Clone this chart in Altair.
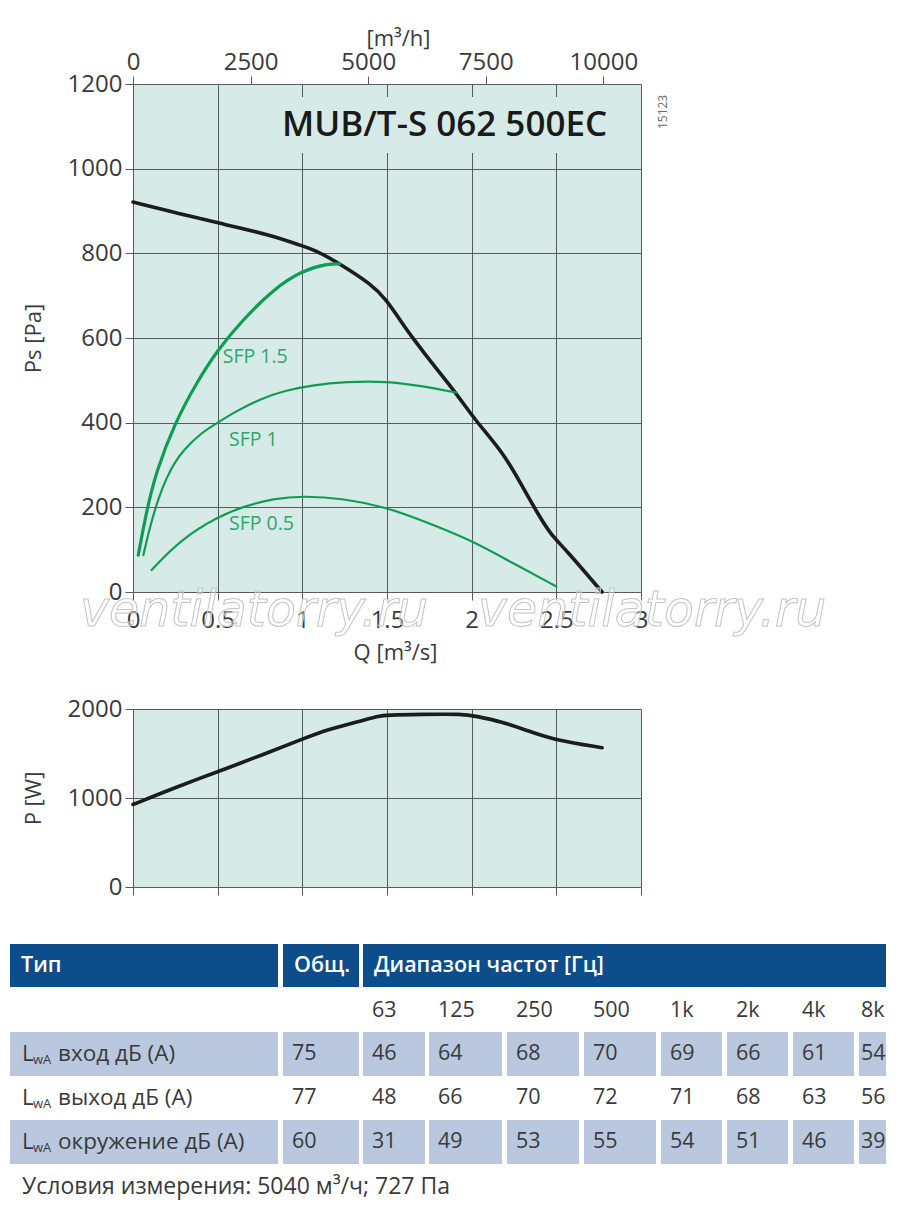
import altair as alt
import pandas as pd

# ---------------- data ----------------
# static pressure curve Ps [Pa] vs Q [m3/s]
q_ps = [0.00, 0.27, 0.50, 0.82, 1.00, 1.07, 1.22, 1.41, 1.49, 1.61, 1.66, 1.75, 1.91, 2.02, 2.19, 2.29, 2.39, 2.47, 2.55, 2.77]
pa_ps = [921, 894, 872, 843, 817, 809, 776, 726, 694, 623, 596, 548, 469, 406, 327, 256, 185, 134, 103, 0]

# SFP curves
q_sfp15 = [0.031, 0.081, 0.14, 0.248, 0.376, 0.50, 0.648, 0.829, 1.00, 1.16, 1.22]
pa_sfp15 = [87, 194, 288, 400, 495, 572, 643, 715, 760, 776, 775]
q_sfp10 = [0.061, 0.10, 0.15, 0.20, 0.25, 0.30, 0.40, 0.50, 0.60, 0.75, 0.90, 1.05, 1.26, 1.50, 1.70, 1.91]
pa_sfp10 = [87, 154, 222, 272, 308, 336, 375, 400, 425, 456, 476, 488, 497, 498, 487, 471]
q_sfp05 = [0.11, 0.278, 0.502, 0.652, 0.829, 1.006, 1.242, 1.498, 1.70, 2.00, 2.23, 2.50]
pa_sfp05 = [52, 123, 178, 202, 221, 227, 221, 200, 170, 122, 71, 13]

sfp_labels = ["SFP 1.5", "SFP 1", "SFP 0.5"]
sfp_label_q = [0.53, 0.567, 0.567]
sfp_label_pa = [555, 359, 160]

# power curve P [W] vs Q [m3/s]
q_pw = [0.00, 0.26, 0.50, 0.76, 1.00, 1.15, 1.33, 1.45, 1.50, 1.70, 1.95, 2.02, 2.18, 2.32, 2.47, 2.77]
p_w = [927, 1126, 1295, 1482, 1662, 1771, 1857, 1921, 1932, 1940, 1944, 1921, 1857, 1764, 1659, 1565]

q_ticks = [0, 0.5, 1, 1.5, 2, 2.5, 3]
pa_ticks = [0, 200, 400, 600, 800, 1000, 1200]
m3h_ticks = [0, 2500, 5000, 7500, 10000]
w_ticks = [0, 1000, 2000]

model_name = "MUB/T-S 062 500EC"
drawing_no = "15123"
watermark = "ventilatorry.ru"

# sound table
header = ["Тип", "Общ.", "Диапазон частот [Гц]"]
freq_labels = ["63", "125", "250", "500", "1k", "2k", "4k", "8k"]
row_names = ["вход дБ (A)", "выход дБ (A)", "окружение дБ (A)"]
totals = [75, 77, 60]
inlet = [46, 64, 68, 70, 69, 66, 61, 54]
outlet = [48, 66, 70, 72, 71, 68, 63, 56]
surround = [31, 49, 53, 55, 54, 51, 46, 39]
footer = "Условия измерения: 5040 м³/ч; 727 Па"

# ---------------- styles ----------------
FONT = "Open Sans"
TEAL = "#d6ebe7"
GRID = "#5a5a5a"
GREEN = "#0f9c55"
GREEN_TXT = "#2ea66a"
TXT = "#3a3a3a"
BLUE = "#0d4d8b"
LIGHT = "#b9c7df"

W = 508
H_TOP = 508
H_BOT = 178

# ---------------- top chart ----------------
x_axis = alt.Axis(values=q_ticks, format="~g", title="Q [m³/s]", grid=True,
                  tickSize=8, labelPadding=8, titlePadding=10, titleX=262)
y_axis = alt.Axis(values=pa_ticks, format="d", title="Ps [Pa]", grid=True, tickSize=8,
                  labelPadding=3, titlePadding=22)


def X():
    return alt.X("Q:Q", scale=alt.Scale(domain=[0, 3], nice=False, zero=False), axis=x_axis)


def X2():
    return alt.X2("Q2:Q")


def Y():
    return alt.Y("Pa:Q", scale=alt.Scale(domain=[0, 1200], nice=False, zero=False), axis=y_axis)


def Y2():
    return alt.Y2("Pa2:Q")


def curve(q, p, color, width):
    df = pd.DataFrame({"Q": q, "Pa": p})
    return alt.Chart(df).mark_line(color=color, strokeWidth=width, interpolate="basis",
                                   strokeCap="round").encode(x=X(), y=Y())


ps_line = curve(q_ps, pa_ps, "#1c1c1c", 3.6)
sfp15 = curve(q_sfp15, pa_sfp15, GREEN, 3.2)
sfp10 = curve(q_sfp10, pa_sfp10, GREEN, 2.2)
sfp05 = curve(q_sfp05, pa_sfp05, GREEN, 2.2)

lab_df = pd.DataFrame({"Q": sfp_label_q, "Pa": sfp_label_pa, "t": sfp_labels})
sfp_text = alt.Chart(lab_df).mark_text(align="left", baseline="middle", font=FONT,
                                       fontSize=19.5, color=GREEN_TXT).encode(
    x=X(), y=Y(), text="t:N")

mask_df = pd.DataFrame({"Q": [0.85], "Q2": [2.93], "Pa": [1037], "Pa2": [1169]})
mask = alt.Chart(mask_df).mark_rect(color=TEAL).encode(x=X(), x2=X2(), y=Y(), y2=Y2())

title_df = pd.DataFrame({"Q": [2.80], "Pa": [1102], "t": [model_name]})
title_txt = alt.Chart(title_df).mark_text(align="right", baseline="middle", font=FONT,
                                          fontSize=35, fontWeight=600, color="#1a1a1a").encode(
    x=X(), y=Y(), text="t:N")

code_df = pd.DataFrame({"Q": [3.13], "Pa": [1134], "t": [drawing_no]})
code_txt = alt.Chart(code_df).mark_text(align="center", baseline="middle", font=FONT,
                                        fontSize=12, angle=270, color="#6a6a6a").encode(
    x=X(), y=Y(), text="t:N")

wm_df = pd.DataFrame({"Q": [-0.313, 2.038], "Pa": [-46, -46], "t": [watermark, watermark]})
wm_txt = alt.Chart(wm_df).mark_text(align="left", baseline="middle", font="DejaVu Sans",
                                    fontSize=49, fontStyle="italic", fill="white",
                                    fillOpacity=0.35, stroke="#c4c4c4", strokeWidth=1).encode(
    x=X(), y=Y(), text="t:N")

inner = alt.layer(ps_line, sfp15, sfp10, sfp05, sfp_text, mask, title_txt, code_txt, wm_txt)

top_axis_df = pd.DataFrame({"m3h": m3h_ticks})
top_axis = alt.Chart(top_axis_df).mark_point(opacity=0).encode(
    x=alt.X("m3h:Q", scale=alt.Scale(domain=[0, 10800], nice=False, zero=False),
            axis=alt.Axis(orient="top", values=m3h_ticks, format="d", grid=False, title="[m³/h]",
                          tickSize=8, labelPadding=2, titlePadding=0, titleX=265)),
    y=alt.value(0))

top = alt.layer(inner, top_axis).resolve_scale(x="independent").properties(
    width=W, height=H_TOP, view=alt.ViewBackground(fill=TEAL, stroke=None))

# ---------------- power chart ----------------
pw_df = pd.DataFrame({"Q": q_pw, "P": p_w})
bottom = alt.Chart(pw_df).mark_line(color="#1c1c1c", strokeWidth=3.6, interpolate="basis",
                                    strokeCap="round").encode(
    x=alt.X("Q:Q", scale=alt.Scale(domain=[0, 3], nice=False, zero=False),
            axis=alt.Axis(values=q_ticks, labels=False, title="", grid=True, tickSize=8)),
    y=alt.Y("P:Q", scale=alt.Scale(domain=[0, 2000], nice=False, zero=False),
            axis=alt.Axis(values=w_ticks, format="d", title="P [W]", grid=True, tickSize=8,
                          labelPadding=3, titlePadding=22)),
).properties(width=W, height=H_BOT, view=alt.ViewBackground(fill=TEAL, stroke=None))

# ---------------- sound table ----------------
# layout of the table in page pixels
T_TOP = 1004
T_BOT = 1200
col_edges = [(10, 278), (283, 359), (363, 425), (429, 502), (507, 579), (584, 656),
             (661, 722), (727, 788), (793, 854), (859, 886)]
text_x = [22, 292, 372, 438, 516, 593, 670, 736, 802, 861]
header_edges = [(10, 278), (283, 359), (363, 886)]
header_y = (944, 987)
row_bands = [(1032, 1076), (1077, 1119), (1120, 1164)]
freq_row_y = 1011
footer_y = 1187

rects = []
for (x0, x1) in header_edges:
    rects.append({"x": x0, "x2": x1, "y": header_y[0], "y2": header_y[1], "c": BLUE})
for ri in (0, 2):
    y0, y1 = row_bands[ri]
    for (x0, x1) in col_edges:
        rects.append({"x": x0, "x2": x1, "y": y0, "y2": y1, "c": LIGHT})
rect_df = pd.DataFrame(rects)

head_txt = []
for (x0, _), t in zip(header_edges, header):
    head_txt.append({"x": x0 + 11, "y": (header_y[0] + header_y[1]) / 2, "t": t})
head_df = pd.DataFrame(head_txt)

body = []
for xt, t in zip(text_x[2:], freq_labels):
    body.append({"x": xt, "y": freq_row_y, "t": t})
rows_vals = [inlet, outlet, surround]
subs = []
names = []
for ri, (name, tot, vals) in enumerate(zip(row_names, totals, rows_vals)):
    yc = (row_bands[ri][0] + row_bands[ri][1]) / 2
    names.append({"x": 22, "y": yc, "t": "L"})
    subs.append({"x": 33, "y": yc + 6, "t": "wA"})
    names.append({"x": 58, "y": yc, "t": name})
    body.append({"x": text_x[1], "y": yc, "t": str(tot)})
    for xt, v in zip(text_x[2:], vals):
        body.append({"x": xt, "y": yc, "t": str(v)})
body_df = pd.DataFrame(body)
name_df = pd.DataFrame(names)
sub_df = pd.DataFrame(subs)
foot_df = pd.DataFrame([{"x": 22, "y": footer_y, "t": footer}])

tx = alt.X("x:Q", scale=alt.Scale(domain=[133, 641], nice=False, zero=False), axis=None)
ty = alt.Y("y:Q", scale=alt.Scale(domain=[T_TOP, T_BOT], nice=False, zero=False, reverse=True),
           axis=None)

t_rects = alt.Chart(rect_df).mark_rect().encode(
    x=tx, x2="x2:Q", y=ty, y2="y2:Q", color=alt.Color("c:N", scale=None))
t_head = alt.Chart(head_df).mark_text(align="left", baseline="middle", font=FONT, fontSize=21.5,
                                      fontWeight=600, color="white").encode(x=tx, y=ty, text="t:N")
t_body = alt.Chart(body_df).mark_text(align="left", baseline="middle", font=FONT, fontSize=21.5,
                                      color=TXT).encode(x=tx, y=ty, text="t:N")
t_names = alt.Chart(name_df).mark_text(align="left", baseline="middle", font=FONT, fontSize=22.5,
                                       color=TXT).encode(x=tx, y=ty, text="t:N")
t_sub = alt.Chart(sub_df).mark_text(align="left", baseline="middle", font=FONT, fontSize=13,
                                    color=TXT).encode(x=tx, y=ty, text="t:N")
t_foot = alt.Chart(foot_df).mark_text(align="left", baseline="middle", font=FONT, fontSize=23,
                                      color=TXT).encode(x=tx, y=ty, text="t:N")

table = alt.layer(t_rects, t_head, t_body, t_names, t_sub, t_foot).properties(
    width=W, height=T_BOT - T_TOP, view=alt.ViewBackground(fill="white", stroke=None))

# ---------------- compose ----------------
chart = alt.vconcat(top, bottom, table, spacing=117, bounds="flush",
                    padding={"left": 2, "right": 0, "top": 19, "bottom": 0}).configure_view(
    stroke=None
).configure_axis(
    labelFont=FONT, labelFontSize=24, labelColor=TXT,
    labelFlush=False, labelOverlap=False,
    titleFont=FONT, titleFontSize=22, titleFontWeight="normal", titleColor=TXT,
    gridColor=GRID, gridWidth=1, gridOpacity=1, tickColor=GRID, tickWidth=1,
    domain=False
)

chart.save("out.html", embed_options={"renderer": "svg", "actions": False})
